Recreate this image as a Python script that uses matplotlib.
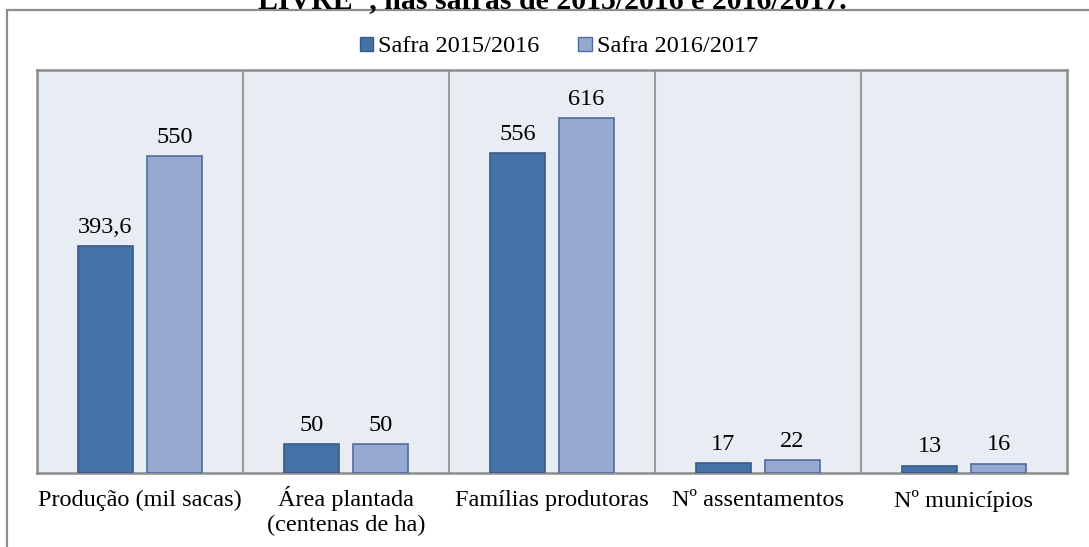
import matplotlib
matplotlib.use("Agg")
import matplotlib.pyplot as plt
from matplotlib.patches import Rectangle, Patch
from matplotlib.transforms import ScaledTranslation
import numpy as np

plt.rcParams['font.family'] = 'serif'
plt.rcParams['font.serif'] = ['Liberation Serif', 'DejaVu Serif']

categories = ["Produção (mil sacas)", "Área plantada\n(centenas de ha)", "Famílias produtoras",
              "Nº assentamentos", "Nº municípios"]
series_names = ["Safra 2015/2016", "Safra 2016/2017"]
safra_2015 = [393.6, 50, 556, 17, 13]
safra_2016 = [550, 50, 616, 22, 16]
labels_2015 = ["393,6", "50", "556", "17", "13"]
labels_2016 = ["550", "50", "616", "22", "16"]
title_visible = 'LIVRE", nas safras de 2015/2016 e 2016/2017.'

dark = "#4472A6"
dark_edge = "#36598A"
light = "#95A9D1"
light_edge = "#4E6D9E"
bg = "#E8ECF3"
sep = "#9A9A9A"

W, H = 1089, 547
fig = plt.figure(figsize=(W/100, H/100), dpi=100)

# outer frame (clipped at right/bottom)
fig.patches.append(Rectangle((7/W, -0.2), 1.2, (H - 10)/H + 0.2, transform=fig.transFigure,
                             fill=False, edgecolor="#8E8E8E", linewidth=1.6, zorder=0))

# title (mostly cropped at top)
fig.text(552/W, 1 - 8/H, title_visible, ha='center', va='baseline',
         fontsize=21.5, fontweight='bold')

ax = fig.add_axes([37/W, (H-473)/H, (1067-37)/W, (473-70)/H])
ax.set_facecolor(bg)
x = np.arange(len(categories))
w = 0.267
off = 0.1675
b1 = ax.bar(x - off, safra_2015, w, color=dark, edgecolor=dark_edge, linewidth=1.2, zorder=3,
            label=series_names[0])
b2 = ax.bar(x + off, safra_2016, w, color=light, edgecolor=light_edge, linewidth=1.2, zorder=3,
            label=series_names[1])

for rect, lab in zip(b1, labels_2015):
    ax.annotate(lab, (rect.get_x() + rect.get_width()/2, rect.get_height()),
                xytext=(0, 6), textcoords='offset points', ha='center', va='bottom', fontsize=17.5)
for rect, lab in zip(b2, labels_2016):
    ax.annotate(lab, (rect.get_x() + rect.get_width()/2, rect.get_height()),
                xytext=(0, 6), textcoords='offset points', ha='center', va='bottom', fontsize=17.5)

for b in np.arange(0.5, len(categories) - 0.5, 1):
    ax.axvline(b, color=sep, linewidth=1.5, zorder=1)

ax.set_xlim(-0.5, len(categories) - 0.5)
ax.set_ylim(0, 700)
ax.set_yticks([])
ax.set_xticks(x)
ax.set_xticklabels(categories, fontsize=17.5, linespacing=1.25)
ax.tick_params(axis='x', length=0, pad=12)
# the accented first line is taller; nudge that label up so baselines match
lbl = ax.get_xticklabels()[1]
lbl.set_transform(lbl.get_transform() + ScaledTranslation(0, 4/100, fig.dpi_scale_trans))
for s in ax.spines.values():
    s.set_color("#8C8C8C")
    s.set_linewidth(1.8)

handles = [Patch(facecolor=dark, edgecolor=dark_edge), Patch(facecolor=light, edgecolor=light_edge)]
fig.legend(handles, series_names, loc='center', bbox_to_anchor=(559/W, 1 - 47/H),
           ncol=2, frameon=False, fontsize=17.5, handlelength=0.55, handleheight=0.55,
           handletextpad=0.2, columnspacing=1.6)

fig.savefig("out.png", dpi=100)
